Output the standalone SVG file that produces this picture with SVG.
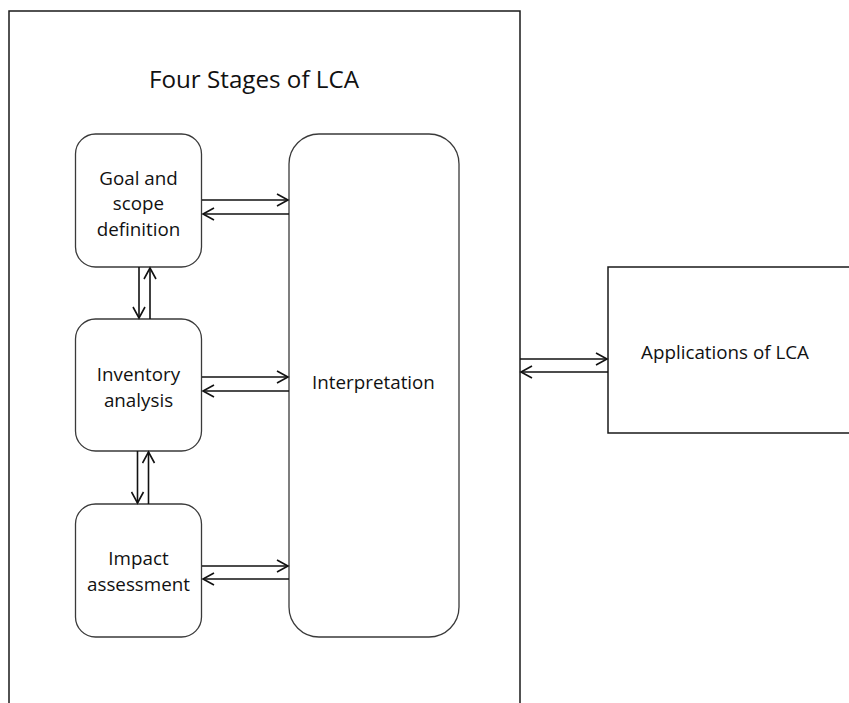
<svg xmlns="http://www.w3.org/2000/svg" width="849" height="703" viewBox="0 0 849 703">
  <style>
    .box { fill: #ffffff; stroke: #3a3a3a; stroke-width: 1.3; }
    .frame { fill: none; stroke: #1a1a1a; stroke-width: 1.5; }
    .label { font-family: "Open Sans", "Liberation Sans", sans-serif; font-size: 18.8px; fill: #111111; text-anchor: middle; }
    .title { font-family: "Open Sans", "Liberation Sans", sans-serif; font-size: 24.2px; fill: #111111; text-anchor: middle; }
    .link { stroke: #111111; stroke-width: 1.6; fill: none; marker-end: url(#open-arrow); }
  </style>
  <defs>
    <marker id="open-arrow" markerUnits="userSpaceOnUse" markerWidth="14" markerHeight="14" viewBox="-12 -7 14 14" refX="0" refY="0" orient="auto">
      <polyline points="-11,-6 0,0 -11,6" fill="none" stroke="#111111" stroke-width="1.6"/>
    </marker>
  </defs>
  <rect width="849" height="703" fill="#ffffff"/>

  <!-- outer frame for the four stages (open at the bottom) -->
  <g id="stages-frame">
    <polyline class="frame" points="9,705 9,11 520,11 520,705"/>
    <text class="title" x="254" y="88">Four Stages of LCA</text>
  </g>

  <g id="goal">
    <rect class="box" x="75.5" y="134" width="126" height="133" rx="20"/>
    <text class="label" x="138.5" y="185">Goal and</text>
    <text class="label" x="138.5" y="210">scope</text>
    <text class="label" x="138.5" y="236">definition</text>
  </g>

  <g id="inventory">
    <rect class="box" x="75.5" y="319" width="126" height="132" rx="20"/>
    <text class="label" x="138.5" y="381">Inventory</text>
    <text class="label" x="138.5" y="407">analysis</text>
  </g>

  <g id="impact">
    <rect class="box" x="75.5" y="504" width="126" height="133" rx="20"/>
    <text class="label" x="138.5" y="565">Impact</text>
    <text class="label" x="138.5" y="591">assessment</text>
  </g>

  <g id="interpretation">
    <rect class="box" x="289" y="134" width="170" height="503" rx="30"/>
    <text class="label" x="373.5" y="389">Interpretation</text>
  </g>

  <g id="applications">
    <polyline class="frame" points="851,267 608,267 608,433 851,433"/>
    <text class="label" x="725" y="359">Applications of LCA</text>
  </g>

  <g id="connectors">
    <line class="link" x1="202" y1="200" x2="288" y2="200"/>
    <line class="link" x1="289" y1="214" x2="203" y2="214"/>
    <line class="link" x1="202" y1="377" x2="288" y2="377"/>
    <line class="link" x1="289" y1="391" x2="203" y2="391"/>
    <line class="link" x1="202" y1="566" x2="288" y2="566"/>
    <line class="link" x1="289" y1="579" x2="203" y2="579"/>
    <line class="link" x1="139" y1="267" x2="139" y2="318"/>
    <line class="link" x1="150" y1="319" x2="150" y2="268"/>
    <line class="link" x1="137.5" y1="451" x2="137.5" y2="503"/>
    <line class="link" x1="148.5" y1="504" x2="148.5" y2="452"/>
    <line class="link" x1="520" y1="359" x2="607" y2="359"/>
    <line class="link" x1="608" y1="372" x2="521" y2="372"/>
  </g>
</svg>
